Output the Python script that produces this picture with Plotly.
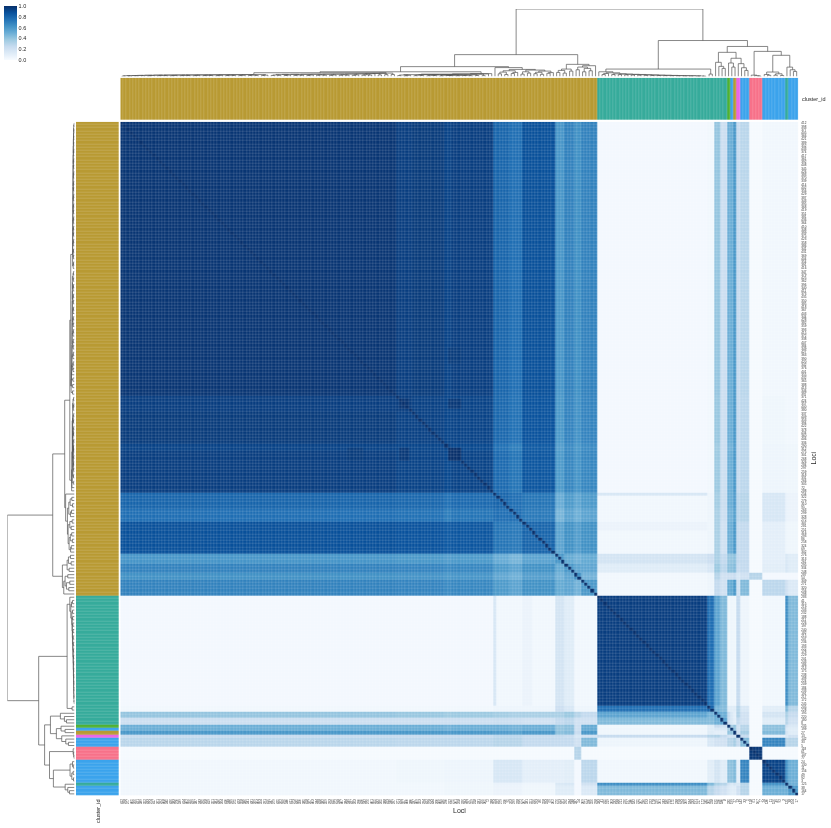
import numpy as np
import plotly.graph_objects as go

WIDTH, HEIGHT = 831, 828

# locus labels along both axes, too small to read in the picture, so these are estimates
LOCI_LABELS = """
412 398 377 405 366 421 389 352 433 374
417 361 392 408 345 426 383 370 339 414
402 356 429 387 343 395 368 419 351 381
436 364 410 348 399 375 423 358 386 341
431 369 404 354 391 416 347 379 425 362
396 340 411 373 435 350 385 418 367 403
344 428 382 359 393 415 372 338 407 384
349 427 363 390 420 342 376 401 355 432
365 388 413 346 397 371 424 357 400 380
337 409 353 394 422 378 434 360 406 336
290 312 275 301 268 326 284 297 259 318
331 266 305 72 288 254 322 279 310 95
263 299 328 272 307 281 251 316 293 86
258 324 69 302 276 313 261 295 334 248
287 54 309 271 320 256 298 283 41 315
219 203 232 188 211 226 197 240 182 215
207 236 193 222 178 229 201 243 186 213
175 238 198 224 209 184 233 191 217 172
245 205 228 195 220 180 8 235 199 27
13 142 33 5 118 61 107 77 24 130
11 156 49 92 3 125 38 164 17
""".split()

# segments along the shared leaf order, and the level between each pair of segments
SEGMENT_SIZES = [85, 5, 10, 2, 13, 5, 4, 10, 3, 3, 2, 5, 34, 2, 2, 2, 1, 1, 1, 1, 3, 4, 7, 1, 3]
BLOCK_ROWS = [
    [.98, .95, .96, .93, .95, .80, .76, .88, .61, .69, .63, .69, .02, .03, .40, .22, .50, .50, .60, .25, .29, .01, .03, .03, .03],
    [.95, .94, .92, .93, .79, .75, .87, .60, .68, .62, .68, .02, .03, .39, .22, .50, .50, .60, .25, .28, .01, .04, .03, .03],
    [.94, .92, .93, .79, .75, .87, .60, .68, .62, .68, .02, .03, .39, .22, .50, .50, .60, .25, .28, .01, .04, .03, .03],
    [.92, .91, .75, .70, .84, .57, .65, .59, .65, .02, .03, .37, .22, .48, .48, .58, .25, .28, .01, .05, .04, .04],
    [.93, .78, .74, .86, .59, .67, .61, .67, .02, .03, .38, .22, .50, .50, .60, .25, .28, .01, .05, .04, .04],
    [.80, .76, .74, .51, .59, .53, .59, .03, .05, .36, .23, .50, .50, .58, .28, .30, .01, .16, .07, .06],
    [.76, .72, .47, .55, .49, .55, .03, .05, .34, .22, .48, .48, .56, .28, .30, .01, .16, .07, .06],
    [.80, .55, .63, .57, .63, .03, .05, .34, .20, .50, .50, .60, .25, .26, .01, .10, .05, .04],
    [.60, .52, .48, .52, .18, .22, .34, .26, .40, .40, .42, .26, .26, .01, .10, .15, .12],
    [.60, .54, .54, .12, .16, .38, .28, .42, .42, .44, .24, .26, .01, .11, .16, .12],
    [.63, .48, .03, .05, .30, .20, .22, .22, .24, .16, .20, .30, .02, .02, .02],
    [.60, .03, .05, .26, .20, .52, .52, .60, .20, .45, .01, .28, .20, .14],
    [.95, .76, .55, .45, .04, .05, .04, .25, .05, .01, .03, .64, .45],
    [.80, .48, .44, .12, .12, .12, .30, .16, .01, .11, .45, .30],
    [.55, .50, .25, .15, .10, .32, .20, .01, .18, .34, .25],
    [.55, .22, .15, .10, .26, .20, .01, .12, .30, .20],
    [1.0, .35, .40, .20, .30, .01, .42, .20, .15],
    [1.0, .40, .20, .30, .01, .42, .15, .12],
    [1.0, .20, .35, .01, .45, .18, .12],
    [1.0, .25, .01, .10, .15, .20],
    [.45, .01, .68, .30, .30],
    [.97, .01, .01, .01],
    [.93, .62, .50],
    [1.0, .50],
    [.60],
]
# small areas that differ from their block: first row, end row, first col, end col, level
PATCHES = [
    (86, 89, 86, 89, .98),
    (86, 89, 101, 105, .97),
    (101, 105, 101, 105, 1.0),
    (70, 75, 101, 105, .96),
    (115, 116, 147, 181, .16),
    (124, 127, 147, 181, .06),
]

# cluster colour strips
CLUSTER_RUNS = [147, 40, 1, 1, 1, 1, 3, 4, 7, 1, 3]
CLUSTER_IDS = [0, 1, 2, 3, 0, 4, 3, 5, 3, 1, 3]
CLUSTER_COLORS = ["#b89a33", "#36ab9b", "#50b131", "#3ba3ec", "#e866e8", "#f77189"]

# dendrogram: merge height between each leaf and the next one
DENDRO_GAPS = [
    .006, .012, .008, .014, .010, .016, .012, .018, .009, .015,
    .020, .011, .017, .013, .021, .010, .016, .022, .012, .018,
    .014, .023, .011, .017, .024, .013, .019, .015, .025, .012,
    .018, .026, .014, .020, .016, .027, .013, .019, .028, .015,
    .021, .017, .029, .014, .020, .056, .016, .022, .018, .031,
    .015, .021, .032, .017, .023, .019, .033, .016, .022, .034,
    .018, .024, .020, .035, .017, .023, .036, .019, .025, .021,
    .038, .018, .024, .040, .020, .026, .022, .042, .045, .024,
    .047, .028, .050, .030, .070,
    .013, .022, .008, .018, .028, .011, .020, .014, .028, .010,
    .018, .013, .024, .008, .024, .015, .011, .021, .009, .021,
    .013, .019, .011, .025, .015, .035, .012, .039, .043,
    .146, .132,
    .040, .065, .030, .085, .045, .060, .105, .035, .070, .050,
    .095, .042, .062, .032, .080, .048, .058,
    .324,
    .06, .09, .05, .11, .08, .18,
    .10, .14, .07, .12, .085, .16,
    1.0,
    .07, .03, .045, .055, .03, .04, .028, .036, .025, .032,
    .022, .03, .02, .026, .018, .024, .016, .02, .014, .018,
    .012, .016, .01, .014, .009, .012, .008, .011, .007, .01,
    .006, .008, .005,
    .11, .036, .533,
    .21, .15, .12, .358,
    .20, .14, .27, .19, .13, .09,
    .445,
    .02, .012, .006, .372,
    .03, .018, .066, .02, .04, .015, .314,
    .139, .10, .075,
]


def dom_x(left, right):
    return [left / WIDTH, right / WIDTH]


def dom_y(top, bottom):
    return [1 - bottom / HEIGHT, 1 - top / HEIGHT]


def build_matrix():
    edges = np.concatenate([[0], np.cumsum(SEGMENT_SIZES)])
    n = edges[-1]
    z = np.zeros((n, n))
    for i, row in enumerate(BLOCK_ROWS):
        for k, level in enumerate(row):
            j = i + k
            z[edges[i]:edges[i + 1], edges[j]:edges[j + 1]] = level
            z[edges[j]:edges[j + 1], edges[i]:edges[i + 1]] = level
    for r0, r1, c0, c1, level in PATCHES:
        z[r0:r1, c0:c1] = level
        z[c0:c1, r0:r1] = level
    np.fill_diagonal(z, 1.0)
    return z


def walk_tree(lo, hi, links):
    # split the leaf range at its highest gap, returns centre and height of the node
    if hi - lo == 1:
        return lo + 0.5, 0.0
    split = lo + int(np.argmax(DENDRO_GAPS[lo:hi - 1])) + 1
    left_pos, left_h = walk_tree(lo, split, links)
    right_pos, right_h = walk_tree(split, hi, links)
    h = DENDRO_GAPS[split - 1]
    links.append((left_pos, left_h, right_pos, right_h, h))
    return (left_pos + right_pos) / 2, h


z = build_matrix()
n = z.shape[0]
leaf_pos = np.arange(n) + 0.5
cluster = np.repeat(CLUSTER_IDS, CLUSTER_RUNS)

links = []
walk_tree(0, n, links)
pos_line, height_line = [], []
for lp, lh, rp, rh, h in links:
    pos_line += [lp, lp, rp, rp, None]
    height_line += [lh, h, h, rh, None]

k = len(CLUSTER_COLORS)
strip_scale = []
for i, c in enumerate(CLUSTER_COLORS):
    strip_scale += [[i / k, c], [(i + 1) / k, c]]

fig = go.Figure()

fig.add_trace(go.Heatmap(
    z=z, x=leaf_pos, y=leaf_pos, xaxis="x", yaxis="y",
    colorscale="Blues", zmin=0, zmax=1, xgap=0.12, ygap=0.12,
    colorbar=dict(
        x=4 / WIDTH, xanchor="left", y=1 - 6 / HEIGHT, yanchor="top",
        lenmode="pixels", len=54, thicknessmode="pixels", thickness=13,
        xpad=0, ypad=0, outlinewidth=0, ticks="", ticklen=0,
        tickvals=[0, 0.2, 0.4, 0.6, 0.8, 1.0], tickformat=".1f",
        tickfont=dict(size=5.5, color="#262626"),
    ),
))
fig.add_trace(go.Heatmap(
    z=[cluster], x=leaf_pos, y=[0.5], xaxis="x2", yaxis="y2",
    colorscale=strip_scale, zmin=0, zmax=k - 1 + 1e-9, showscale=False, xgap=0.15,
))
fig.add_trace(go.Heatmap(
    z=cluster.reshape(-1, 1), x=[0.5], y=leaf_pos, xaxis="x3", yaxis="y3",
    colorscale=strip_scale, zmin=0, zmax=k - 1 + 1e-9, showscale=False, ygap=0.15,
))
dendro_line = dict(color="#555555", width=0.7)
fig.add_trace(go.Scatter(
    x=pos_line, y=height_line, mode="lines", line=dendro_line,
    xaxis="x4", yaxis="y4", showlegend=False, hoverinfo="skip",
))
fig.add_trace(go.Scatter(
    x=height_line, y=pos_line, mode="lines", line=dendro_line,
    xaxis="x5", yaxis="y5", showlegend=False, hoverinfo="skip",
))

hidden = dict(visible=False, fixedrange=True)
label_font = dict(size=3, color="#333333")
fig.update_layout(
    width=WIDTH, height=HEIGHT, autosize=False,
    margin=dict(l=0, r=0, t=0, b=0), paper_bgcolor="white", plot_bgcolor="white",
    font=dict(family="Liberation Sans, Arial, sans-serif", color="#262626"),
    xaxis=dict(
        domain=dom_x(120.3, 798.3), range=[0, n], side="bottom", tickmode="array",
        tickvals=leaf_pos, ticktext=LOCI_LABELS, tickangle=-90, tickfont=label_font,
        ticks="", showgrid=False, zeroline=False, anchor="y", ticklabelstandoff=2,
    ),
    yaxis=dict(
        domain=dom_y(121.7, 795.5), range=[n, 0], side="right", tickmode="array",
        tickvals=leaf_pos, ticktext=LOCI_LABELS, tickfont=label_font,
        ticks="", showgrid=False, zeroline=False, anchor="x", ticklabelstandoff=2,
    ),
    xaxis2=dict(domain=dom_x(120.3, 798.3), range=[0, n], anchor="y2", **hidden),
    yaxis2=dict(domain=dom_y(77.7, 120), range=[0, 1], anchor="x2", **hidden),
    xaxis3=dict(domain=dom_x(76, 118.7), range=[0, 1], anchor="y3", **hidden),
    yaxis3=dict(domain=dom_y(121.7, 795.5), range=[n, 0], anchor="x3", **hidden),
    xaxis4=dict(domain=dom_x(120.3, 798.3), range=[0, n], anchor="y4", **hidden),
    yaxis4=dict(domain=dom_y(9, 76.5), range=[0, 1], anchor="x4", **hidden),
    xaxis5=dict(domain=dom_x(7.3, 74.5), range=[1, 0], anchor="y5", **hidden),
    yaxis5=dict(domain=dom_y(121.7, 795.5), range=[n, 0], anchor="x5", **hidden),
)

annotations = [
    dict(text="Loci", x=459.5, y=810.5, size=7, angle=0),
    dict(text="Loci", x=813, y=458.5, size=7, angle=-90),
    dict(text="cluster_id", x=813.5, y=99, size=5.5, angle=0),
    dict(text="cluster_id", x=97.5, y=811.5, size=5.5, angle=-90),
]
for a in annotations:
    fig.add_annotation(
        text=a["text"], xref="paper", yref="paper", x=a["x"] / WIDTH, y=1 - a["y"] / HEIGHT,
        xanchor="center", yanchor="middle", showarrow=False, textangle=a["angle"],
        font=dict(size=a["size"], color="#262626"),
    )

# own compositor layer for the svg so the tiny text gets grey antialiasing, no colour fringes
fig.write_html(
    "out.html",
    config={"displayModeBar": False},
    post_script=(
        "document.body.style.margin='0';"
        "document.querySelectorAll('.main-svg').forEach(s=>s.style.willChange='transform');"
    ),
)
